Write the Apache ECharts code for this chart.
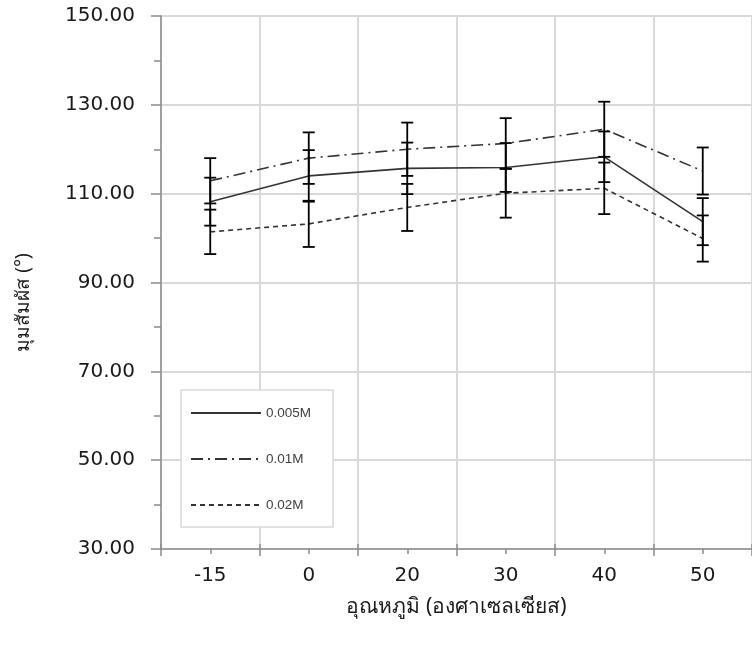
<!DOCTYPE html>
<html>
<head>
<meta charset="utf-8">
<script src="https://cdn.jsdelivr.net/npm/echarts@6/dist/echarts.min.js"></script>
<style>html,body{margin:0;padding:0;background:#fff}#c{width:752px;height:649px}</style>
</head>
<body>
<div id="c"></div>
<script>
const categories = ['-15', '0', '20', '30', '40', '50'];
const seriesNames = ['0.005M', '0.01M', '0.02M'];
const s005 = [108.2, 114.0, 115.7, 115.9, 118.3, 103.7];
const s001 = [112.9, 118.0, 120.0, 121.3, 124.5, 115.1];
const s002 = [101.4, 103.2, 106.9, 110.1, 111.2, 99.9];
const err005 = [5.4, 5.8, 5.8, 5.5, 5.7, 5.3];
const err001 = [5.1, 5.8, 6.0, 5.7, 6.2, 5.3];
const err002 = [5.0, 5.2, 5.3, 5.5, 5.8, 5.2];
const yTicks = [30, 50, 70, 90, 110, 130, 150];

const chart = echarts.init(document.getElementById('c'), null, {renderer: 'canvas'});
const lineColor = '#333333';
const axisColor = '#8c8c8c';
const gridColor = '#d9d9d9';
const labelFont = {color: '#1a1a1a', fontSize: 20, fontFamily: 'DejaVu Sans'};

function errData(vals, errs) {
  return vals.map((v, i) => [i, v - errs[i], v + errs[i]]);
}
function renderErr(params, api) {
  const x = api.value(0);
  const lo = api.coord([x, api.value(1)]);
  const hi = api.coord([x, api.value(2)]);
  const w = 6;
  const st = {stroke: '#000', lineWidth: 1.8};
  return {
    type: 'group',
    children: [
      {type: 'line', shape: {x1: lo[0], y1: lo[1], x2: hi[0], y2: hi[1]}, style: st},
      {type: 'line', shape: {x1: lo[0] - w, y1: lo[1], x2: lo[0] + w, y2: lo[1]}, style: st},
      {type: 'line', shape: {x1: hi[0] - w, y1: hi[1], x2: hi[0] + w, y2: hi[1]}, style: st}
    ]
  };
}
function lineSeries(name, data, type) {
  return {
    name: name, type: 'line', data: data, symbol: 'none', z: 2,
    lineStyle: {color: lineColor, width: 1.6, type: type},
    itemStyle: {color: lineColor}
  };
}
function errSeries(name, vals, errs) {
  return {
    name: name + ' err', type: 'custom', data: errData(vals, errs),
    renderItem: renderErr, encode: {x: 0, y: [1, 2]}, z: 5
  };
}

const option = {
  animation: false,
  backgroundColor: '#fff',
  grid: {left: 161, top: 16, right: -9, bottom: 100, containLabel: false},
  legend: {
    data: seriesNames,
    orient: 'vertical',
    left: 181, top: 390,
    padding: [16, 22, 15, 9],
    itemWidth: 70, itemHeight: 14, itemGap: 32,
    borderColor: gridColor, borderWidth: 1.5,
    backgroundColor: '#fff',
    itemStyle: {opacity: 0},
    textStyle: {color: '#404040', fontSize: 13.5, fontFamily: 'Liberation Sans'}
  },
  xAxis: [
    {
      type: 'category', data: categories, position: 'bottom', boundaryGap: true,
      name: 'อุณหภูมิ (องศาเซลเซียส)', nameLocation: 'middle', nameGap: 48,
      nameTextStyle: {color: '#1a1a1a', fontSize: 21, fontFamily: 'Noto Sans, sans-serif'},
      axisLine: {show: true, lineStyle: {color: axisColor, width: 1.5}},
      axisTick: {show: true, interval: 0, length: 7, lineStyle: {color: axisColor, width: 1.5}},
      axisLabel: Object.assign({margin: 17, interval: 0}, labelFont),
      splitLine: {show: true, interval: 0, lineStyle: {color: gridColor, width: 2}}
    },
    {
      type: 'category', data: categories, position: 'bottom', gridIndex: 0,
      axisLine: {show: false}, axisLabel: {show: false}, splitLine: {show: false},
      axisTick: {show: true, alignWithLabel: true, interval: 0, length: 5, lineStyle: {color: axisColor, width: 1.5}}
    },
    {
      type: 'category', data: categories, position: 'bottom', gridIndex: 0,
      axisLine: {show: false}, axisLabel: {show: false}, splitLine: {show: false},
      axisTick: {show: true, inside: true, interval: 0, length: 5, lineStyle: {color: axisColor, width: 1.5}}
    }
  ],
  yAxis: {
    type: 'value', min: yTicks[0], max: yTicks[yTicks.length - 1], interval: 20,
    name: 'มุมสัมผัส (°)', nameLocation: 'middle', nameGap: 128, nameRotate: 90,
    nameTextStyle: {color: '#1a1a1a', fontSize: 19, fontFamily: 'Noto Sans, sans-serif', padding: [0, 40, 0, 0]},
    axisLine: {show: true, lineStyle: {color: axisColor, width: 1.5}},
    axisTick: {show: true, length: 10, lineStyle: {color: axisColor, width: 1.5}},
    minorTick: {show: true, splitNumber: 2, length: 7, lineStyle: {color: axisColor, width: 1.5}},
    axisLabel: Object.assign({margin: 26, formatter: v => v.toFixed(2)}, labelFont),
    splitLine: {show: true, lineStyle: {color: gridColor, width: 2}}
  },
  series: [
    lineSeries(seriesNames[0], s005, 'solid'),
    lineSeries(seriesNames[1], s001, [12, 5, 2, 5]),
    lineSeries(seriesNames[2], s002, [5, 4]),
    errSeries(seriesNames[0], s005, err005),
    errSeries(seriesNames[1], s001, err001),
    errSeries(seriesNames[2], s002, err002)
  ]
};
chart.setOption(option);
</script>
</body>
</html>
